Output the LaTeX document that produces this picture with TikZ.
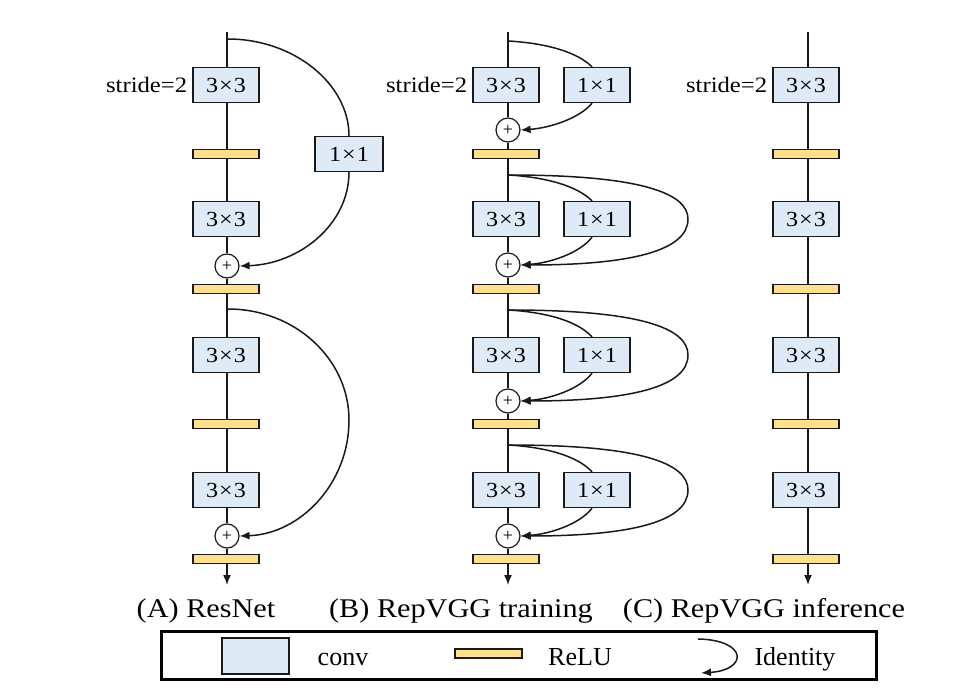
\documentclass[tikz,border=0pt]{standalone}
\usepackage{fontspec}
\usepackage{graphicx}
\setmainfont{Liberation Serif}
\usetikzlibrary{arrows.meta}
\definecolor{convfill}{RGB}{222,234,246}
\definecolor{relufill}{RGB}{255,224,140}
\definecolor{edge}{RGB}{25,25,25}
\newcommand{\sx}[1]{\scalebox{1.12}[1]{#1}}
\newcommand{\kk}{\sx{3\kern1pt×\kern1pt3}}
\newcommand{\oo}{\sx{1\kern1pt×\kern1pt1}}
\tikzset{
 conv/.style={draw=edge, line width=1.4pt, fill=convfill, minimum width=66pt, minimum height=35pt, inner sep=0pt, font=\fontsize{21.5}{24}\selectfont},
 relu/.style={draw=edge, line width=1.3pt, fill=relufill, minimum width=66pt, minimum height=9pt, inner sep=0pt},
 addn/.style={circle, draw=edge, line width=1.2pt, fill=white, minimum size=24pt, inner sep=0pt, font=\fontsize{18}{18}\selectfont},
 wire/.style={line width=1.5pt, draw=edge},
 arr/.style={wire, -{Latex[length=10pt,width=8pt]}},
 lbl/.style={font=\fontsize{22}{24}\selectfont, anchor=east, inner sep=0pt},
 ttl/.style={font=\fontsize{27}{30}\selectfont, anchor=base, inner sep=0pt},
 leg/.style={font=\fontsize{26}{28}\selectfont, anchor=base, inner sep=0pt},
}
\begin{document}
\begin{tikzpicture}[x=1pt,y=-1pt]
\useasboundingbox (0,0) rectangle (978,698);

% ---------------- Column A : ResNet ----------------
\coordinate (Atop) at (227,32);
\node[conv] (a1) at (226,85) {\kk};
\node[lbl] (sa) at ([xshift=-5pt]a1.west) {\sx{stride=2}};
\node[relu] (ar1) at (226,154) {};
\node[conv] (a2) at (226,219) {\kk};
\node[addn] (ap1) at (227,266) {+};
\node[relu] (ar2) at (226,289) {};
\node[conv] (a3) at (226,355) {\kk};
\node[relu] (ar3) at (226,424) {};
\node[conv] (a4) at (226,490) {\kk};
\node[addn] (ap2) at (227,536) {+};
\node[relu] (ar4) at (226,559) {};
\coordinate (Aend) at (227,585);
\node[conv, minimum width=68pt] (a1x) at (349,154) {\oo};

\draw[wire] (Atop) -- (a1.north -| Atop);
\draw[wire] (a1.south -| Atop) -- (ar1.north -| Atop);
\draw[wire] (ar1.south -| Atop) -- (a2.north -| Atop);
\draw[wire] (a2.south -| Atop) -- (ap1.north);
\draw[wire] (ap1.south) -- (ar2.north -| Atop);
\draw[wire] (ar2.south -| Atop) -- (a3.north -| Atop);
\draw[wire] (a3.south -| Atop) -- (ar3.north -| Atop);
\draw[wire] (ar3.south -| Atop) -- (a4.north -| Atop);
\draw[wire] (a4.south -| Atop) -- (ap2.north);
\draw[wire] (ap2.south) -- (ar4.north -| Atop);
\draw[arr] (ar4.south -| Atop) -- (Aend);

\coordinate (aB1) at (228,39);
\coordinate (aB2) at (228,309);
\draw[wire] (aB1) .. controls (294,39) and (349,84) .. (a1x.north);
\draw[arr] (a1x.south) .. controls (349,224) and (300,264) .. (ap1.east);
\draw[arr] (aB2) .. controls (295,309) and (349,359) .. (349,420)
  .. controls (349,484) and (300,534) .. (ap2.east);

% ---------------- Column B : RepVGG training ----------------
\coordinate (Btop) at (508,32);
\node[conv] (b1) at (506,85) {\kk};
\node[lbl] (sb) at ([xshift=-5pt]b1.west) {\sx{stride=2}};
\node[conv] (bx1) at (597,85) {\oo};
\node[addn] (bp1) at (508,130) {+};
\node[relu] (br1) at (506,154) {};
\node[conv] (b2) at (506,219) {\kk};
\node[conv] (bx2) at (597,219) {\oo};
\node[addn] (bp2) at (508,265) {+};
\node[relu] (br2) at (506,289) {};
\node[conv] (b3) at (506,355) {\kk};
\node[conv] (bx3) at (597,355) {\oo};
\node[addn] (bp3) at (508,401) {+};
\node[relu] (br3) at (506,424) {};
\node[conv] (b4) at (506,490) {\kk};
\node[conv] (bx4) at (597,490) {\oo};
\node[addn] (bp4) at (508,536) {+};
\node[relu] (br4) at (506,559) {};
\coordinate (Bend) at (508,585);

\draw[wire] (Btop) -- (b1.north -| Btop);
\draw[wire] (b1.south -| Btop) -- (bp1.north);
\draw[wire] (bp1.south) -- (br1.north -| Btop);
\draw[wire] (br1.south -| Btop) -- (b2.north -| Btop);
\draw[wire] (b2.south -| Btop) -- (bp2.north);
\draw[wire] (bp2.south) -- (br2.north -| Btop);
\draw[wire] (br2.south -| Btop) -- (b3.north -| Btop);
\draw[wire] (b3.south -| Btop) -- (bp3.north);
\draw[wire] (bp3.south) -- (br3.north -| Btop);
\draw[wire] (br3.south -| Btop) -- (b4.north -| Btop);
\draw[wire] (b4.south -| Btop) -- (bp4.north);
\draw[wire] (bp4.south) -- (br4.north -| Btop);
\draw[arr] (br4.south -| Btop) -- (Bend);

% row 1 branch
\coordinate (bB1) at (509,41);
\draw[wire] (bB1) .. controls (555,44) and (580,55) .. ([xshift=-5pt]bx1.north);
\draw[arr] ([xshift=-5pt]bx1.south) .. controls (580,118) and (550,128) .. (bp1.east);
% rows 2-4 branches with identity
\foreach \r/\yb/\yc/\yp in {2/175/219/265, 3/310/355/401, 4/445/490/536}{
  \coordinate (bB\r) at (509,\yb);
  \draw[wire] (bB\r) .. controls ({555},{\yb+3}) and ({580},{\yb+14}) .. ([xshift=-5pt]bx\r.north);
  \draw[arr] ([xshift=-5pt]bx\r.south) .. controls ({580},{\yp-12}) and ({550},{\yp-2}) .. (bp\r.east);
  \draw[arr] (bB\r) .. controls ({640},{\yb}) and ({688},{\yb+18}) .. ({688},{\yc})
     .. controls ({688},{\yp-14}) and ({630},{\yp}) .. (bp\r.east);
}

% ---------------- Column C : RepVGG inference ----------------
\coordinate (Ctop) at (808,32);
\node[conv] (c1) at (806,85) {\kk};
\node[lbl] (sc) at ([xshift=-5pt]c1.west) {\sx{stride=2}};
\node[relu] (cr1) at (806,154) {};
\node[conv] (c2) at (806,219) {\kk};
\node[relu] (cr2) at (806,289) {};
\node[conv] (c3) at (806,355) {\kk};
\node[relu] (cr3) at (806,424) {};
\node[conv] (c4) at (806,490) {\kk};
\node[relu] (cr4) at (806,559) {};
\coordinate (Cend) at (808,585);

\draw[wire] (Ctop) -- (c1.north -| Ctop);
\draw[wire] (c1.south -| Ctop) -- (cr1.north -| Ctop);
\draw[wire] (cr1.south -| Ctop) -- (c2.north -| Ctop);
\draw[wire] (c2.south -| Ctop) -- (cr2.north -| Ctop);
\draw[wire] (cr2.south -| Ctop) -- (c3.north -| Ctop);
\draw[wire] (c3.south -| Ctop) -- (cr3.north -| Ctop);
\draw[wire] (cr3.south -| Ctop) -- (c4.north -| Ctop);
\draw[wire] (c4.south -| Ctop) -- (cr4.north -| Ctop);
\draw[arr] (cr4.south -| Ctop) -- (Cend);

% ---------------- Titles ----------------
\node[ttl] (tA) at (206,617) {\sx{(A) ResNet}};
\node[ttl] (tB) at (461,617) {\sx{(B) RepVGG training}};
\node[ttl] (tC) at (764,617) {\sx{(C) RepVGG inference}};

% ---------------- Legend ----------------
\node[draw=black, line width=3pt, minimum width=715pt, minimum height=48pt, inner sep=0pt] (legbox) at (519,655.5) {};
\node[conv, minimum width=67pt, minimum height=36pt] (lconv) at (255.5,656) {};
\node[leg] (tconv) at (343,665) {conv};
\node[relu, minimum width=67pt] (lrelu) at (488.5,653.5) {};
\node[leg] (trelu) at (580,665) {ReLU};
\coordinate (lid1) at (698,639);
\coordinate (lid2) at (701,673);
\draw[arr] (lid1) .. controls (748,640) and (748,670) .. (lid2);
\node[leg] (tid) at (795,665) {Identity};
\end{tikzpicture}
\end{document}
